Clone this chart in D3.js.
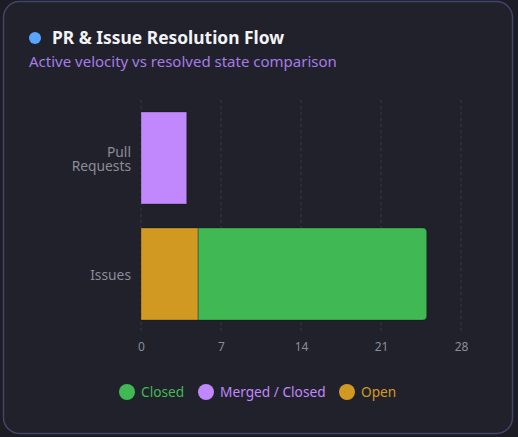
<!DOCTYPE html>
<html>
<head>
<meta charset="utf-8">
<script src="https://cdn.jsdelivr.net/npm/d3@7"></script>
<style>
  html, body { margin: 0; padding: 0; background: #1c1c24; }
  body { width: 518px; height: 437px; overflow: hidden; font-family: "Noto Sans", sans-serif; }
</style>
</head>
<body>
<svg id="chart"></svg>
<script>
// Chart data
const categories = ["Pull Requests", "Issues"];
const seriesNames = ["Open", "Merged / Closed", "Closed"];
const openValues = [0, 5];
const mergedValues = [4, 0];
const closedValues = [0, 20];
const xTicks = [0, 7, 14, 21, 28];
const legendOrder = ["Closed", "Merged / Closed", "Open"];

const colors = {
  "Closed": "#40b954",
  "Merged / Closed": "#c088fc",
  "Open": "#d29922"
};

const width = 518, height = 437;
const svg = d3.select('#chart').attr('width', width).attr('height', height);

// Card
svg.append('rect')
  .attr('x', 3.5).attr('y', 1.5)
  .attr('width', 509).attr('height', 432)
  .attr('rx', 16)
  .attr('fill', '#21212b')
  .attr('stroke', '#41456a')
  .attr('stroke-width', 1.5);

// Header
svg.append('circle').attr('cx', 35).attr('cy', 38).attr('r', 6).attr('fill', '#58a6ff');
svg.append('text')
  .attr('x', 52).attr('y', 44)
  .attr('fill', '#f3f3f6')
  .attr('font-size', 17.4).attr('font-weight', 700)
  .text('PR & Issue Resolution Flow');
svg.append('text')
  .attr('x', 29).attr('y', 67)
  .attr('fill', '#a57ce8')
  .attr('font-size', 15)
  .text('Active velocity vs resolved state comparison');

// Scales
const plotLeft = 141, plotRight = 461, plotTop = 100, plotBottom = 332;
const xScale = d3.scaleLinear().domain([0, 28]).range([plotLeft, plotRight]);
const yScale = d3.scaleBand().domain(categories)
  .range([plotTop, plotBottom])
  .paddingInner(0.207).paddingOuter(0.1034);

// Grid lines
svg.append('g').selectAll('line')
  .data(xTicks)
  .enter()
  .append('line')
  .attr('x1', d => xScale(d)).attr('x2', d => xScale(d))
  .attr('y1', plotTop).attr('y2', plotBottom)
  .attr('stroke', '#383a4a')
  .attr('stroke-dasharray', '3 3');

// Stacked data
const rows = categories.map((c, i) => ({
  category: c,
  "Open": openValues[i],
  "Merged / Closed": mergedValues[i],
  "Closed": closedValues[i]
}));
const stacked = d3.stack().keys(seriesNames)(rows);

// Path for a bar with rounded right end
function barPath(x0, x1, y, h, r) {
  const w = x1 - x0;
  r = Math.min(r, w / 2, h / 2);
  return `M${x0},${y}H${x1 - r}Q${x1},${y} ${x1},${y + r}V${y + h - r}Q${x1},${y + h} ${x1 - r},${y + h}H${x0}Z`;
}

const bars = svg.append('g');
stacked.forEach(layer => {
  const name = layer.key;
  layer.forEach((seg, i) => {
    if (seg[1] - seg[0] <= 0) return;
    const cat = categories[i];
    const x0 = xScale(seg[0]), x1 = xScale(seg[1]);
    const y = yScale(cat), h = yScale.bandwidth();
    bars.append('path')
      .attr('d', barPath(x0, x1, y, h, name === 'Closed' ? 4 : 0))
      .attr('fill', colors[name])
      .attr('stroke', 'rgba(0,0,0,0.25)')
      .attr('stroke-width', 1);
  });
});

// X axis labels
const xAxis = d3.axisBottom(xScale).tickValues(xTicks).tickSize(0).tickPadding(10);
const gx = svg.append('g')
  .attr('transform', `translate(0, ${plotBottom})`)
  .call(xAxis);
gx.select('.domain').remove();
gx.selectAll('text')
  .attr('fill', '#8a8d99')
  .attr('font-size', 12)
  .attr('font-family', '"Noto Sans", sans-serif');

// Y axis labels, one text per line
const gy = svg.append('g');
categories.forEach(c => {
  const words = c.split(' ');
  const cy = yScale(c) + yScale.bandwidth() / 2;
  const lineH = 14;
  words.forEach((w, k) => {
    gy.append('text')
      .attr('text-anchor', 'end')
      .attr('fill', '#8a8d99')
      .attr('font-size', 13.8)
      .attr('x', 131)
      .attr('y', cy + (k - (words.length - 1) / 2) * lineH + 6)
      .text(w);
  });
});

// Legend
const legendX = [127, 206, 347];
const legend = svg.append('g');
legendOrder.forEach((name, i) => {
  legend.append('circle')
    .attr('cx', legendX[i]).attr('cy', 392).attr('r', 8)
    .attr('fill', colors[name]);
  legend.append('text')
    .attr('x', legendX[i] + 14).attr('y', 397)
    .attr('fill', colors[name])
    .attr('font-size', 13.7)
    .text(name);
});
</script>
</body>
</html>
